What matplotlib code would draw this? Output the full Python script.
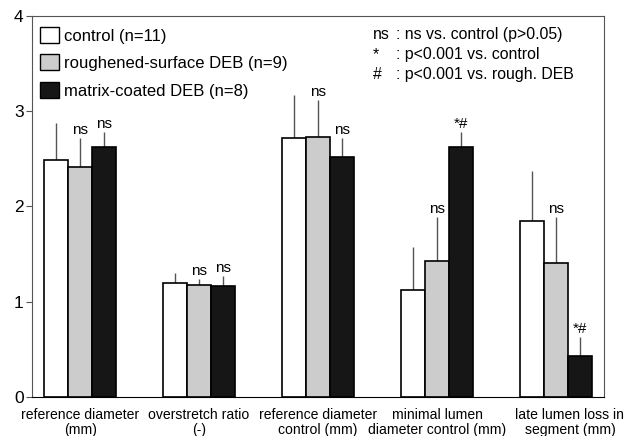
import numpy as np
import matplotlib.pyplot as plt
import matplotlib.transforms as mtransforms
from matplotlib.patches import Patch

plt.rcParams['font.family'] = ['Liberation Sans', 'DejaVu Sans']

categories = ["reference diameter\n(mm)", "overstretch ratio\n(-)",
              "reference diameter\ncontrol (mm)", "minimal lumen\ndiameter control (mm)",
              "late lumen loss in\nsegment (mm)"]
groups = ["control (n=11)", "roughened-surface DEB (n=9)", "matrix-coated DEB (n=8)"]

control = [2.49, 1.20, 2.72, 1.12, 1.85]
control_sd = [0.39, 0.10, 0.45, 0.45, 0.52]
rough = [2.41, 1.18, 2.73, 1.43, 1.41]
rough_sd = [0.31, 0.055, 0.39, 0.46, 0.48]
matrix = [2.62, 1.17, 2.52, 2.62, 0.43]
matrix_sd = [0.16, 0.10, 0.20, 0.16, 0.20]

marks_rough = ["ns", "ns", "ns", "ns", "ns"]
marks_matrix = ["ns", "ns", "ns", "*#", "*#"]

fig = plt.figure(figsize=(6.38, 4.36), dpi=100)
ax = fig.add_axes([0.05, 0.0894, 0.897, 0.874])

x = np.arange(len(categories))
w = 0.204
colors = ["white", "#cccccc", "#161616"]
series = [control, rough, matrix]
errs = [control_sd, rough_sd, matrix_sd]

for i in range(3):
    pos = x + (i - 1) * w
    ax.bar(pos, series[i], w, color=colors[i], edgecolor="black", linewidth=1.2, zorder=2)
    ax.errorbar(pos, series[i], yerr=[np.zeros(len(x)), errs[i]], fmt="none",
                ecolor="#555555", elinewidth=1.0, capsize=0, zorder=1)

for i, marks in [(1, marks_rough), (2, marks_matrix)]:
    for j in range(len(x)):
        top = series[i][j] + errs[i][j]
        ax.text(x[j] + (i - 1) * w, top + 0.01, marks[j], ha="center", va="bottom", fontsize=11)

ax.set_xlim(-0.405, 4.405)
ax.set_ylim(0, 4)
ax.set_yticks([0, 1, 2, 3, 4])
ax.tick_params(axis="y", direction="out", length=4, labelsize=12.5, color="#555555", pad=2)
ax.set_xticks(x)
ax.set_xticklabels(categories, fontsize=10.1, linespacing=1.1)
ax.tick_params(axis="x", length=0, pad=8)
offset = mtransforms.ScaledTranslation(0.14, 0, fig.dpi_scale_trans)
lbl = ax.get_xticklabels()[-1]
lbl.set_transform(lbl.get_transform() + offset)

for side in ["left", "top", "right"]:
    ax.spines[side].set_color("#555555")
ax.spines["bottom"].set_color("black")

handles = [Patch(facecolor=c, edgecolor="black", linewidth=1.0) for c in colors]
ax.legend(handles, groups, loc="upper left", frameon=False, fontsize=12,
          handlelength=1.1, handleheight=1.1, handletextpad=0.35, labelspacing=0.65,
          borderaxespad=0.1, bbox_to_anchor=(0.0, 0.993))

notes_sym = ["ns", "*", "#"]
notes_txt = [": ns vs. control (p>0.05)", ": p<0.001 vs. control", ": p<0.001 vs. rough. DEB"]
for k in range(3):
    yy = 0.952 - k * 0.053
    ax.text(0.596, yy, notes_sym[k], transform=ax.transAxes, fontsize=11.4, va="center")
    ax.text(0.636, yy, notes_txt[k], transform=ax.transAxes, fontsize=11.4, va="center")

fig.savefig("out.png", dpi=100)
